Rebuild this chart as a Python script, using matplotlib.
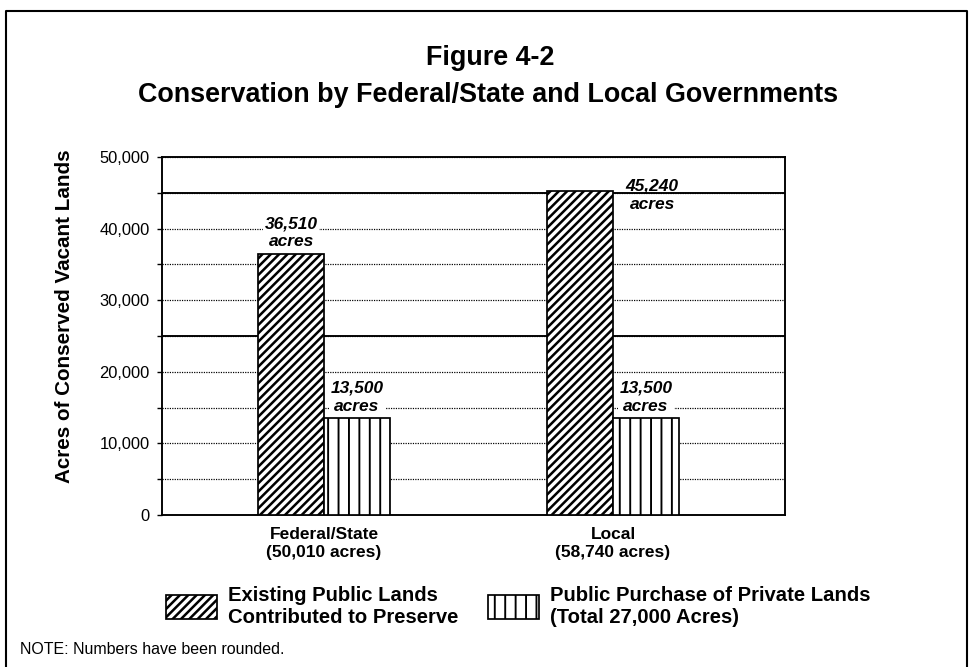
import matplotlib.pyplot as plt
import numpy as np
from matplotlib.lines import Line2D
from matplotlib.patches import Patch
from matplotlib.ticker import FuncFormatter, MultipleLocator

plt.rcParams["font.family"] = ["Liberation Sans", "DejaVu Sans"]

# Data
categories = ["Federal/State\n(50,010 acres)", "Local\n(58,740 acres)"]
existing_public = [36510, 45240]
public_purchase = [13500, 13500]
series_names = [
    "Existing Public Lands\nContributed to Preserve",
    "Public Purchase of Private Lands\n(Total 27,000 Acres)",
]
title_lines = ["Figure 4-2", "Conservation by Federal/State and Local Governments"]
y_label = "Acres of Conserved Vacant Lands"
note = "NOTE: Numbers have been rounded."

W, H = 970, 667
DPI = 125


def fx(px):
    return px / W


def fy(py):
    return 1 - py / H


fig = plt.figure(figsize=(W / DPI, H / DPI), dpi=DPI)
ax = fig.add_axes([fx(162), fy(515), fx(785) - fx(162), fy(157) - fy(515)])

x = np.arange(len(categories))
w = 0.227
hatch_styles = [("/////", 1.45, -w / 2), ("||", 1.1, w / 2)]


def set_hlw(patches, hlw):
    for p in patches:
        if hasattr(p, "set_hatch_linewidth"):
            p.set_hatch_linewidth(hlw)


bars = []
for vals, (hatch, hlw, offset) in zip([existing_public, public_purchase], hatch_styles):
    plt.rcParams["hatch.linewidth"] = hlw
    b = ax.bar(x + offset, vals, w, color="white", edgecolor="black",
               linewidth=1.0, hatch=hatch, zorder=3)
    set_hlw(b, hlw)
    bars.append(b)


def label_bar(rect):
    value = int(rect.get_height())
    text = f"{value:,}\nacres"
    kw = dict(textcoords="offset points", ha="center", fontsize=10,
              fontweight="bold", fontstyle="italic", linespacing=1.25, zorder=5)
    if value > 42000:
        # no room above: set to the right of the bar
        ax.annotate(text, xy=(rect.get_x() + rect.get_width(), value),
                    xytext=(22.5, -2.5), va="center", **kw)
    else:
        ax.annotate(text, xy=(rect.get_x() + rect.get_width() / 2, value),
                    xytext=(0, 2.6), va="bottom",
                    bbox=dict(facecolor="white", edgecolor="none", pad=0.8), **kw)


for b in bars:
    for rect in b:
        label_bar(rect)

ax.set_ylim(0, 50000)
ax.set_xlim(-0.5606, 1.595)
ax.yaxis.set_major_locator(MultipleLocator(10000))
ax.yaxis.set_minor_locator(MultipleLocator(5000))
ax.yaxis.set_major_formatter(FuncFormatter(lambda v, p: f"{int(v):,}"))
ax.set_axisbelow(True)
ax.grid(which="both", axis="y", color="black", linestyle=(0, (1, 1)), linewidth=0.7)
for yv in (25000, 45000):
    ax.axhline(yv, color="black", linewidth=1.1, zorder=1.5)

ax.tick_params(axis="y", which="both", direction="out", length=2.9, width=0.8,
               labelsize=9.5, pad=4.2)
ax.tick_params(axis="x", length=0, pad=7)
ax.set_xticks(x)
ax.set_xticklabels(categories, fontsize=10, fontweight="bold", linespacing=1.25)
for s in ax.spines.values():
    s.set_linewidth(1.1)

handles = [
    Patch(facecolor="white", edgecolor="black", linewidth=1.0, hatch=hatch_styles[0][0]),
    Patch(facecolor="white", edgecolor="black", linewidth=1.0, hatch=hatch_styles[1][0]),
]
leg = fig.legend(handles, series_names, loc="upper left",
                 bbox_to_anchor=(fx(166), fy(586)), ncol=2, frameon=False,
                 borderpad=0, borderaxespad=0, handlelength=2.5, handleheight=1.45,
                 handletextpad=0.55, columnspacing=1.45,
                 prop=dict(weight="bold", size=11.7))
for t in leg.get_texts():
    t.set_linespacing(1.2)
for p, (hatch, hlw, _) in zip(leg.get_patches(), hatch_styles):
    set_hlw([p], hlw)

fig.text(0.505, fy(65), title_lines[0], ha="center", va="baseline",
         fontsize=15.5, fontweight="bold")
fig.text(0.503, fy(102), title_lines[1], ha="center", va="baseline",
         fontsize=15.5, fontweight="bold")
fig.text(fx(65), fy(316), y_label, rotation=90, ha="center", va="center",
         fontsize=11.9, fontweight="bold")
fig.text(fx(20), fy(650), note, ha="left", va="center", fontsize=9.2)

# page frame
fig.add_artist(Line2D([fx(6), fx(6), fx(967), fx(967)], [0, fy(11), fy(11), 0],
                      transform=fig.transFigure, color="black", linewidth=1.2))

fig.savefig("out.png", dpi=DPI)
